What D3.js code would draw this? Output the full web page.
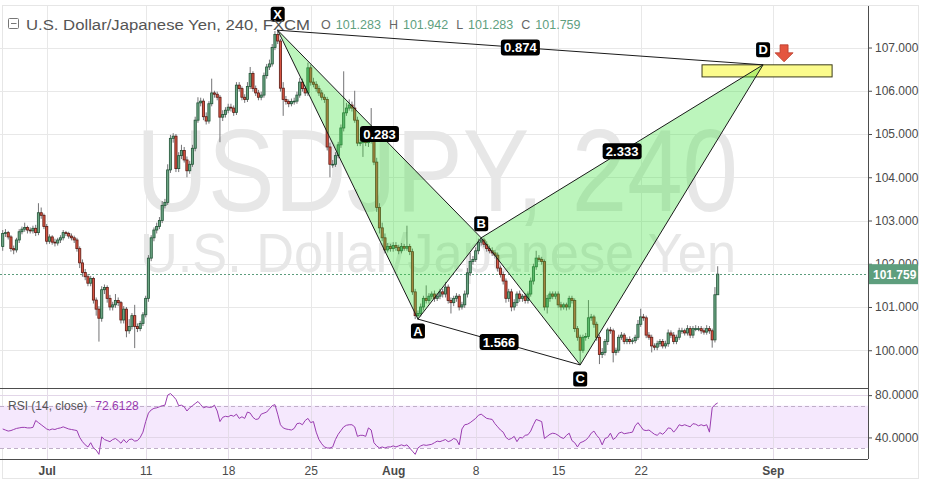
<!DOCTYPE html>
<html><head><meta charset="utf-8">
<script src="https://cdn.jsdelivr.net/npm/d3@7"></script>
<style>
body{margin:0;background:#fff;}
svg{display:block;}
text{font-family:"Liberation Sans", Arial, sans-serif;}
</style>
</head><body>
<svg id="chart" width="934" height="486"></svg>
<script>
// ---------- DATA (4H USD/JPY bars) ----------
const opens = [
102.40,102.70,102.72,102.62,102.35,102.32,102.55,102.74,102.80,102.84,
102.78,102.76,102.82,102.72,103.18,103.12,102.86,102.52,102.62,102.50,
102.48,102.55,102.60,102.72,102.70,102.64,102.60,102.55,102.35,102.02,
101.80,101.70,101.55,101.66,101.16,100.95,100.74,101.40,101.45,101.20,
101.00,101.05,101.15,101.10,100.70,100.95,100.45,100.55,100.80,100.55,
100.50,100.62,100.82,101.20,102.13,102.60,102.78,102.86,103.00,103.35,
103.42,104.17,104.90,104.95,104.20,104.50,104.62,104.40,104.15,104.30,
104.67,105.32,105.72,105.76,105.40,105.30,105.70,105.95,105.92,105.85,
105.39,105.45,105.55,105.62,105.60,105.50,106.13,106.05,105.85,105.80,
106.10,106.40,106.05,105.95,105.85,105.90,106.35,106.55,106.62,107.00,
107.30,107.15,106.06,105.80,105.75,105.70,105.75,105.76,105.90,106.20,
106.05,105.95,106.53,106.20,106.15,106.05,105.95,105.85,105.80,104.70,
104.30,104.30,104.50,104.75,105.14,105.49,105.60,105.67,105.60,105.32,
104.79,104.80,104.85,104.80,104.85,105.00,104.35,103.30,102.83,102.60,
102.32,102.40,102.35,102.42,102.38,102.30,102.40,102.36,102.40,102.28,
101.35,100.80,100.85,101.00,101.20,101.15,101.25,101.30,101.20,101.25,
101.35,101.30,101.46,101.15,101.10,101.20,101.25,101.00,101.05,101.30,
101.79,102.05,102.10,102.30,102.50,102.55,102.45,102.35,102.30,102.25,
102.20,101.90,101.75,101.60,101.20,101.35,101.00,101.10,101.30,101.20,
101.25,101.15,101.30,101.60,101.93,102.13,102.10,102.05,101.00,101.20,
101.30,101.25,101.30,101.05,101.00,101.05,101.00,101.20,101.15,100.50,
100.30,100.00,100.30,100.32,100.75,100.77,100.60,100.30,99.90,99.95,
100.20,100.47,100.45,99.95,100.00,100.30,100.35,100.20,100.25,100.20,
100.22,100.30,100.60,100.77,100.75,100.35,100.30,100.10,100.07,100.15,
100.20,100.10,100.15,100.40,100.35,100.20,100.30,100.45,100.45,100.40,
100.50,100.35,100.50,100.50,100.50,100.45,100.42,100.50,100.45,100.24,
101.283];
const highs = [
102.78,102.80,102.76,102.66,102.42,102.60,102.80,102.86,102.95,102.88,
102.84,102.88,102.90,103.40,103.30,103.16,102.92,102.68,102.66,102.58,
102.60,102.66,102.78,102.76,102.74,102.70,102.65,102.60,102.40,102.10,
101.88,101.76,101.72,101.70,101.22,101.02,101.48,101.52,101.50,101.28,
101.12,101.30,101.22,101.14,101.02,101.00,100.72,100.86,101.05,100.62,
100.68,100.88,101.26,102.20,102.66,102.84,102.95,103.08,103.45,103.50,
104.30,104.98,105.02,105.00,104.58,104.75,104.70,104.48,104.38,104.75,
105.40,105.85,105.84,105.82,105.50,105.76,106.28,106.00,105.98,105.90,
105.55,105.62,105.70,105.70,105.66,106.20,106.20,106.10,105.92,106.20,
106.55,106.45,106.12,106.02,105.98,106.42,106.62,106.72,107.08,107.38,
107.42,107.20,106.20,105.88,105.80,105.82,105.84,105.98,106.30,106.28,
106.12,106.65,106.60,106.30,106.22,106.12,106.02,105.92,105.86,104.80,
104.40,104.58,104.82,105.22,106.45,105.72,105.80,105.75,106.00,105.40,
104.88,104.92,104.92,104.95,105.60,105.10,104.45,103.40,102.95,102.70,
102.48,102.46,102.50,102.50,102.44,102.48,102.46,102.88,102.46,102.35,
101.42,100.92,101.08,101.26,101.50,101.32,101.36,101.38,101.32,101.42,
101.42,101.58,101.52,101.22,101.26,101.32,101.30,101.12,101.38,101.90,
102.25,102.18,102.38,102.58,102.62,102.60,102.52,102.42,102.38,102.32,
102.26,101.96,101.82,101.66,101.42,101.42,101.18,101.36,101.38,101.30,
101.32,101.36,101.68,102.00,102.30,102.20,102.16,102.10,101.28,101.36,
101.36,101.36,101.36,101.12,101.10,101.10,101.26,101.26,101.20,100.56,
100.36,100.36,100.40,101.16,100.84,100.82,100.66,100.36,100.05,100.26,
100.52,100.54,100.50,100.06,100.36,100.42,100.40,100.30,100.32,100.28,
100.36,100.70,100.96,100.84,100.80,100.42,100.36,100.16,100.22,100.26,
100.26,100.22,100.48,100.46,100.42,100.36,100.52,100.52,100.50,100.58,
100.56,100.56,100.58,100.56,100.56,100.52,100.58,100.56,100.50,101.46,
101.942];
const lows = [
102.30,102.62,102.56,102.28,102.22,102.26,102.48,102.68,102.74,102.70,
102.70,102.70,102.64,102.66,103.04,102.80,102.45,102.46,102.44,102.40,
102.42,102.48,102.54,102.64,102.58,102.54,102.48,102.28,101.90,101.70,
101.62,101.48,101.48,101.08,100.80,100.20,100.66,101.30,101.10,100.92,
100.92,100.98,101.02,100.62,100.62,100.30,100.38,100.48,100.05,100.42,
100.44,100.56,100.76,101.12,102.06,102.52,102.70,102.80,102.94,103.28,
103.36,104.10,104.80,104.12,104.12,104.42,104.34,104.00,104.08,104.24,
104.60,105.26,105.64,105.32,105.22,105.24,105.64,105.84,105.78,104.81,
105.30,105.38,105.48,105.52,105.42,105.44,105.98,105.78,105.72,105.74,
106.04,105.98,105.88,105.78,105.78,105.84,106.28,106.48,106.56,106.94,
107.08,105.98,105.42,105.68,105.62,105.64,105.68,105.70,105.84,105.98,
105.88,105.88,106.12,106.08,105.98,105.88,105.78,105.72,104.62,104.00,
104.22,104.24,104.44,104.68,105.06,105.42,105.54,105.52,105.26,104.72,
104.72,104.47,104.72,104.70,104.78,104.28,103.20,102.70,102.52,102.24,
102.26,102.28,102.28,102.30,102.22,102.24,102.30,102.30,102.20,101.28,
100.72,100.70,100.78,100.92,101.08,101.08,101.18,101.12,101.14,101.18,
101.22,101.22,101.08,100.85,101.02,101.12,100.92,100.94,100.98,101.22,
101.72,101.98,102.04,102.22,102.42,102.38,102.28,102.24,102.18,102.12,
101.82,101.68,101.52,101.10,101.12,100.90,100.92,101.02,101.12,101.12,
101.08,101.08,101.24,101.52,101.86,102.04,101.98,100.92,100.85,101.12,
101.18,101.18,100.98,100.92,100.94,100.92,100.94,101.08,100.42,100.22,
99.66,99.94,100.22,100.26,100.68,100.52,100.22,99.68,99.82,99.88,
100.12,100.38,99.72,99.88,99.94,100.24,100.14,100.14,100.14,100.14,
100.16,100.24,100.54,100.68,100.28,100.24,99.95,100.00,100.00,100.08,
100.04,100.04,100.08,100.28,100.14,100.14,100.24,100.38,100.34,100.34,
100.28,100.28,100.44,100.44,100.38,100.36,100.36,100.38,100.06,100.18,
101.283];
const closes = [
102.70,102.72,102.62,102.35,102.32,102.55,102.74,102.80,102.84,102.78,
102.76,102.82,102.72,103.18,103.12,102.86,102.52,102.62,102.50,102.48,
102.55,102.60,102.72,102.70,102.64,102.60,102.55,102.35,102.02,101.80,
101.70,101.55,101.66,101.16,100.95,100.74,101.40,101.45,101.20,101.00,
101.05,101.15,101.10,100.70,100.95,100.45,100.55,100.80,100.55,100.50,
100.62,100.82,101.20,102.13,102.60,102.78,102.86,103.00,103.35,103.42,
104.17,104.90,104.95,104.20,104.50,104.62,104.40,104.15,104.30,104.67,
105.32,105.72,105.76,105.40,105.30,105.70,105.95,105.92,105.85,105.39,
105.45,105.55,105.62,105.60,105.50,106.13,106.05,105.85,105.80,106.10,
106.40,106.05,105.95,105.85,105.90,106.35,106.55,106.62,107.00,107.30,
107.15,106.06,105.80,105.75,105.70,105.75,105.76,105.90,106.20,106.05,
105.95,106.53,106.20,106.15,106.05,105.95,105.85,105.80,104.70,104.30,
104.30,104.50,104.75,105.14,105.49,105.60,105.67,105.60,105.32,104.79,
104.80,104.85,104.80,104.85,105.00,104.35,103.30,102.83,102.60,102.32,
102.40,102.35,102.42,102.38,102.30,102.40,102.36,102.40,102.28,101.35,
100.80,100.85,101.00,101.20,101.15,101.25,101.30,101.20,101.25,101.35,
101.30,101.46,101.15,101.10,101.20,101.25,101.00,101.05,101.30,101.79,
102.05,102.10,102.30,102.50,102.55,102.45,102.35,102.30,102.25,102.20,
101.90,101.75,101.60,101.20,101.35,101.00,101.10,101.30,101.20,101.25,
101.15,101.30,101.60,101.93,102.13,102.10,102.05,101.00,101.20,101.30,
101.25,101.30,101.05,101.00,101.05,101.00,101.20,101.15,100.50,100.30,
100.00,100.30,100.32,100.75,100.77,100.60,100.30,99.90,99.95,100.20,
100.47,100.45,99.95,100.00,100.30,100.35,100.20,100.25,100.20,100.22,
100.30,100.60,100.77,100.75,100.35,100.30,100.10,100.07,100.15,100.20,
100.10,100.15,100.40,100.35,100.20,100.30,100.45,100.45,100.40,100.50,
100.35,100.50,100.50,100.50,100.45,100.42,100.50,100.45,100.24,101.283,
101.759];
const rsiValues = [
48,47,46,46.5,47.5,48.5,49,49.5,49.5,49,
49,49.5,56,54,52,50,48,47,48,47.5,
48.5,49,50,49,48,47.5,47,46.5,40,36,
33,31,35,30,28,24,40.5,38,37,36,
38,39,37,34.5,38,35,38,38.5,36.5,37,
40,45,55,63,66,67.5,68,69,70,70.5,
80,81.5,79,76,70,70.5,69,65,68,70,
72,74,71,68,69,68.5,68.5,70.5,65,55,
59,60,59.5,61,60,62,58,59.5,58,64,
63,59,57,57.5,62,63,64,67,70,71,
62,52,49,48,47.5,47,48.5,53,53.5,52,
56,58,54,55,45,38,34,31,30,30,
31,38,43,46.5,50,51.5,52,52,50,41,
42,42,41,49,47,35,32,30,31,30,
31,31,32,31,32,33,32,33,30,27,
24,30,32,33,32.5,33,33.5,35,36.5,36,
37,38,36,37,39,38,33,48,52,52.5,
54,56,58,61,62,60,58,57.5,57,53,
50,47,45,40,38,39,41,36,40,39.5,
42,42.5,46,52,57,56,55,39,41,43,
44,43.5,42,40,39,42,44,37,35,31,
35,36,37.5,40,44,46,42,39,33,39,
40,44,38,40,44,45,43.5,44,44.5,45,
51,54,50.5,47,46.5,47,45,43,42,44.5,
43,45.5,49,48.5,45,48,52,51,52,51,
50,53,52.5,51,52,51,52,45,68,71,
72.6128];

const priceTicks = [100,101,102,103,104,105,106,107];
const rsiTicks = [40,80];
const rsiBands = [30,70];
const timeTickIdx = [16,52,82,112,142,172,202,232,280];
const timeTickLabels = ["Jul","11","18","25","Aug","8","15","22","Sep"];
const monthLabels = ["Jul","Aug","Sep"];

// XABCD pattern
const patternNames = ["X","A","B","C","D"];
const patternIdx = [100,151,174,210,276.5];
const patternPrice = [107.40,100.72,102.60,99.66,106.60];
const ratioEdges = [[0,2],[1,3],[2,4],[0,4]];
const ratioLabels = ["0.283","1.566","2.333","0.874"];
// completion zone box (bar index range, price range)
const przIdx = [254.3,301.6];
const przPrice = [106.60,106.32];

const symbolTitle = "U.S. Dollar/Japanese Yen, 240, FXCM";
const ohlcLetters = ["O","H","L","C"];
const ohlcValues = ["101.283","101.942","101.283","101.759"];
const lastPrice = 101.759;
const rsiTitle = "RSI (14, close)";
const rsiLast = "72.6128";
const watermark1 = "USDJPY, 240";
const watermark2 = "U.S. Dollar/Japanese Yen";

// ---------- LAYOUT ----------
const svg = d3.select("#chart");
const plotL = 0, plotR = 868;
const mainTop = 6, mainBot = 388, rsiTop = 388, rsiBot = 459;

const x = d3.scaleLinear().domain([0,280]).range([2.7,772.7]);
const y = d3.scaleLinear().domain([99.127,107.96]).range([mainBot,mainTop]);
const yr = d3.scaleLinear().domain([19.6,85.8]).range([rsiBot,rsiTop+1]);

const defs = svg.append("defs");
defs.append("clipPath").attr("id","clipMain").append("rect")
  .attr("x",plotL).attr("y",mainTop).attr("width",plotR-plotL).attr("height",mainBot-mainTop);
defs.append("clipPath").attr("id","clipRsi").append("rect")
  .attr("x",plotL).attr("y",rsiTop).attr("width",plotR-plotL).attr("height",rsiBot-rsiTop);

// frame
svg.append("rect").attr("x",2.5).attr("y",5.5).attr("width",916).attr("height",473)
  .attr("fill","none").attr("stroke","#e6e6e6");

const gridColor = "#e8e8e8";
svg.append("g").selectAll("line").data(timeTickIdx).join("line")
  .attr("x1",d=>Math.round(x(d))+0.5).attr("x2",d=>Math.round(x(d))+0.5)
  .attr("y1",mainTop).attr("y2",rsiBot).attr("stroke",gridColor);
svg.append("g").selectAll("line").data(priceTicks).join("line")
  .attr("x1",plotL).attr("x2",plotR)
  .attr("y1",d=>Math.round(y(d))+0.5).attr("y2",d=>Math.round(y(d))+0.5).attr("stroke",gridColor);

// watermark
svg.append("text").text(watermark1)
  .attr("x",437).attr("y",211).attr("text-anchor","middle")
  .attr("font-family","'Open Sans', sans-serif").attr("font-size",116)
  .attr("textLength",602).attr("lengthAdjust","spacingAndGlyphs")
  .attr("fill","#e7e7e7");
svg.append("text").text(watermark2)
  .attr("x",438).attr("y",272).attr("text-anchor","middle")
  .attr("font-family","'Open Sans', sans-serif").attr("font-size",55)
  .attr("textLength",596).attr("lengthAdjust","spacingAndGlyphs")
  .attr("fill","#e7e7e7");

// last price dotted line
svg.append("line").attr("x1",plotL).attr("x2",plotR)
  .attr("y1",Math.round(y(lastPrice))+0.5).attr("y2",Math.round(y(lastPrice))+0.5)
  .attr("stroke","#5b9c7c").attr("stroke-dasharray","2,2");

// ---------- CANDLES ----------
const idx = d3.range(closes.length);
const cg = svg.append("g").attr("clip-path","url(#clipMain)");
cg.selectAll("line.wick").data(idx).join("line").attr("class","wick")
  .attr("x1",i=>x(i)).attr("x2",i=>x(i))
  .attr("y1",i=>y(highs[i])).attr("y2",i=>y(lows[i]))
  .attr("stroke","#737375").attr("stroke-width",1);
cg.selectAll("rect.body").data(idx).join("rect").attr("class","body")
  .attr("x",i=>x(i)-1.1).attr("width",2.2)
  .attr("y",i=>y(Math.max(opens[i],closes[i])))
  .attr("height",i=>Math.max(0.8,Math.abs(y(opens[i])-y(closes[i]))))
  .attr("fill",i=>closes[i]>=opens[i]?"#6ba583":"#d75442")
  .attr("stroke",i=>closes[i]>=opens[i]?"#225437":"#5b1a13")
  .attr("stroke-width",0.8);

// PRZ box (below the pattern drawing)
svg.append("rect").attr("x",x(przIdx[0])).attr("y",y(przPrice[0]))
  .attr("width",x(przIdx[1])-x(przIdx[0])).attr("height",y(przPrice[1])-y(przPrice[0]))
  .attr("fill","#fbfb8c").attr("stroke","#3b3b1a").attr("stroke-width",1);

// ---------- PATTERN ----------
const pg = svg.append("g").attr("clip-path","url(#clipMain)");
const P = patternIdx.map((d,i)=>[x(d),y(patternPrice[i])]);
[[0,1,2],[2,3,4]].forEach(t=>{
  pg.append("path").attr("d","M"+t.map(k=>P[k].join(",")).join("L")+"Z")
    .attr("fill","rgba(60,225,60,0.34)").attr("stroke","none");
});
const edges = [[0,1],[1,2],[0,2],[2,3],[3,4],[2,4],[0,4],[1,3]];
pg.selectAll("line.edge").data(edges).join("line").attr("class","edge")
  .attr("x1",e=>P[e[0]][0]).attr("y1",e=>P[e[0]][1])
  .attr("x2",e=>P[e[1]][0]).attr("y2",e=>P[e[1]][1])
  .attr("stroke","#1a1a1a").attr("stroke-width",1);

ratioEdges.forEach((e,k)=>{
  const mx=(P[e[0]][0]+P[e[1]][0])/2, my=(P[e[0]][1]+P[e[1]][1])/2;
  const g=svg.append("g");
  g.append("rect").attr("x",mx-19.5).attr("y",my-8).attr("width",39).attr("height",16)
    .attr("rx",3).attr("fill","#000");
  g.append("text").text(ratioLabels[k]).attr("x",mx).attr("y",my+4.5)
    .attr("text-anchor","middle").attr("fill","#fff").attr("font-size",13).attr("font-weight","bold");
});
const labelOff = [-16,12,-14,14,-15];
patternNames.forEach((n,k)=>{
  const cx=P[k][0], cy=P[k][1]+labelOff[k];
  const g=svg.append("g");
  g.append("rect").attr("x",cx-7).attr("y",cy-7.5).attr("width",14).attr("height",15)
    .attr("rx",2.5).attr("fill","#000");
  g.append("text").text(n).attr("x",cx).attr("y",cy+4.5)
    .attr("text-anchor","middle").attr("fill","#fff").attr("font-size",13).attr("font-weight","bold");
});
{
  const ax=P[4][0]+21, ay=P[4][1]-20;
  svg.append("path")
    .attr("d",`M${ax-4},${ay} L${ax+4},${ay} L${ax+4},${ay+8} L${ax+9},${ay+8} L${ax},${ay+17} L${ax-9},${ay+8} L${ax-4},${ay+8} Z`)
    .attr("fill","#e4553f").attr("stroke","#b73a28").attr("stroke-width",0.8);
}

// ---------- RSI PANE ----------
const rg = svg.append("g");
rg.append("rect").attr("x",plotL).attr("width",plotR-plotL)
  .attr("y",yr(rsiBands[1])).attr("height",yr(rsiBands[0])-yr(rsiBands[1]))
  .attr("fill","#f5e8fd");
rg.selectAll("line.rg").data(rsiTicks).join("line").attr("class","rg")
  .attr("x1",plotL).attr("x2",plotR)
  .attr("y1",d=>Math.round(yr(d))+0.5).attr("y2",d=>Math.round(yr(d))+0.5)
  .attr("stroke","#e2d6e8");
rg.selectAll("line.band").data(rsiBands).join("line").attr("class","band")
  .attr("x1",plotL).attr("x2",plotR)
  .attr("y1",d=>Math.round(yr(d))+0.5).attr("y2",d=>Math.round(yr(d))+0.5)
  .attr("stroke","#bfaec8").attr("stroke-dasharray","4,3");
rg.selectAll("line.vg").data(timeTickIdx).join("line").attr("class","vg")
  .attr("x1",d=>Math.round(x(d))+0.5).attr("x2",d=>Math.round(x(d))+0.5)
  .attr("y1",rsiTop).attr("y2",rsiBot).attr("stroke","#e4dce8");
rg.append("path").datum(idx).attr("clip-path","url(#clipRsi)")
  .attr("d",d3.line().x(i=>x(i)).y(i=>yr(rsiValues[i])))
  .attr("fill","none").attr("stroke","#9a3cb0").attr("stroke-width",1);
const rt = rg.append("text").attr("x",8).attr("y",410).attr("font-size",12)
  .attr("font-family","'Open Sans', sans-serif");
rt.append("tspan").text(rsiTitle).attr("fill","#555");
rt.append("tspan").text(rsiLast).attr("fill","#9a3cb0").attr("dx",8);

// ---------- PANE BORDERS ----------
svg.append("line").attr("x1",plotL).attr("x2",plotR).attr("y1",mainBot+0.5).attr("y2",mainBot+0.5).attr("stroke","#4d4d4d");
svg.append("line").attr("x1",plotL).attr("x2",plotR).attr("y1",rsiBot+0.5).attr("y2",rsiBot+0.5).attr("stroke","#4d4d4d");
svg.append("line").attr("x1",plotR+0.5).attr("x2",plotR+0.5).attr("y1",mainTop).attr("y2",rsiBot).attr("stroke","#4d4d4d");

// ---------- AXES ----------
const ay1 = svg.append("g").attr("transform",`translate(${plotR},0)`)
  .call(d3.axisRight(y).tickValues(priceTicks).tickFormat(d3.format(".3f")).tickSize(4).tickPadding(3));
const ay2 = svg.append("g").attr("transform",`translate(${plotR},0)`)
  .call(d3.axisRight(yr).tickValues([80,40]).tickFormat(d3.format(".4f")).tickSize(4).tickPadding(3));
[ay1,ay2].forEach(a=>{
  a.select(".domain").remove();
  a.selectAll(".tick line").attr("stroke","#4d4d4d");
  a.selectAll(".tick text").attr("fill","#4a4a4a").attr("font-size",12)
    .attr("font-family","'Liberation Sans', Arial, sans-serif");
});
const ax = svg.append("g").attr("transform",`translate(0,${rsiBot})`)
  .call(d3.axisBottom(x).tickValues(timeTickIdx).tickFormat((d,i)=>timeTickLabels[i]).tickSize(0).tickPadding(7));
ax.select(".domain").remove();
ax.selectAll(".tick text").attr("fill","#4a4a4a").attr("font-size",12)
  .attr("font-family","'Liberation Sans', Arial, sans-serif")
  .attr("font-weight",(d,i)=>monthLabels.includes(timeTickLabels[i])?"bold":"normal");

// last price tag
svg.append("rect").attr("x",plotR+1).attr("y",y(lastPrice)-10).attr("width",49).attr("height",20)
  .attr("fill","#5e9e7d");
svg.append("text").text(d3.format(".3f")(lastPrice)).attr("x",plotR+5).attr("y",y(lastPrice)+4.5)
  .attr("fill","#fff").attr("font-size",12).attr("font-weight","bold");

// ---------- HEADER ----------
const hg = svg.append("g");
hg.append("rect").attr("x",8.5).attr("y",18.5).attr("width",10).attr("height",10)
  .attr("fill","none").attr("stroke","#777").attr("rx",1);
hg.append("line").attr("x1",11).attr("x2",16.5).attr("y1",23.5).attr("y2",23.5).attr("stroke","#777");
hg.append("text").text(symbolTitle).attr("x",26).attr("y",30)
  .attr("font-family","'Open Sans', sans-serif").attr("font-size",15.5)
  .attr("textLength",284).attr("lengthAdjust","spacingAndGlyphs").attr("fill","#555");
const ot = hg.append("text").attr("x",321).attr("y",29).attr("font-size",12.5)
  .attr("font-family","'Open Sans', sans-serif");
ohlcLetters.forEach((l,k)=>{
  ot.append("tspan").text(l).attr("fill","#666").attr("dx",k?8:0);
  ot.append("tspan").text(ohlcValues[k]).attr("fill","#5f9f7f").attr("dx",5);
});
</script>
</body></html>
